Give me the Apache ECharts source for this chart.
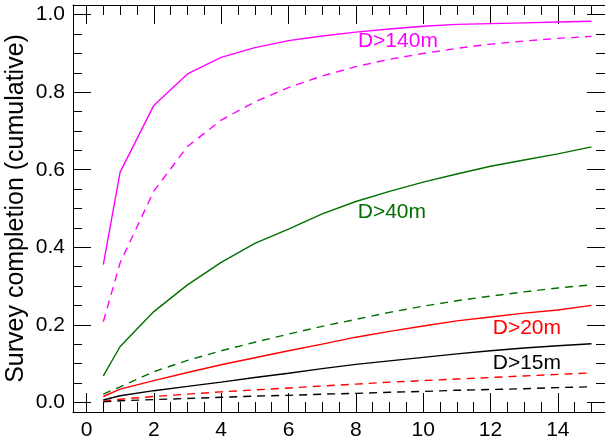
<!DOCTYPE html>
<html>
<head>
<meta charset="utf-8">
<script src="https://cdn.jsdelivr.net/npm/echarts@6/dist/echarts.min.js"></script>
<style>
html,body{margin:0;padding:0;background:#fff;}
#chart{width:605px;height:443px;}
</style>
</head>
<body>
<div id="chart"></div>
<script>
// ---- data ----
var xValues = [0.5, 1, 2, 3, 4, 5, 6, 7, 8, 9, 10, 11, 12, 13, 14, 15];
var d140Solid = [0.355, 0.594, 0.766, 0.847, 0.890, 0.915, 0.933, 0.945, 0.955, 0.963, 0.970, 0.975, 0.977, 0.979, 0.981, 0.983];
var d140Dash  = [0.208, 0.360, 0.545, 0.660, 0.728, 0.775, 0.812, 0.842, 0.866, 0.885, 0.900, 0.913, 0.924, 0.932, 0.939, 0.944];
var d40Solid  = [0.068, 0.144, 0.234, 0.303, 0.361, 0.410, 0.447, 0.486, 0.518, 0.544, 0.568, 0.589, 0.609, 0.625, 0.641, 0.659];
var d40Dash   = [0.021, 0.040, 0.079, 0.108, 0.133, 0.155, 0.176, 0.196, 0.214, 0.232, 0.248, 0.262, 0.274, 0.285, 0.295, 0.303];
var d20Solid  = [0.015, 0.034, 0.056, 0.077, 0.097, 0.115, 0.133, 0.150, 0.168, 0.183, 0.197, 0.210, 0.220, 0.230, 0.238, 0.250];
var d20Dash   = [0.003, 0.008, 0.015, 0.021, 0.027, 0.032, 0.037, 0.042, 0.047, 0.052, 0.056, 0.060, 0.064, 0.068, 0.072, 0.076];
var d15Solid  = [0.006, 0.017, 0.030, 0.041, 0.052, 0.064, 0.075, 0.087, 0.098, 0.107, 0.116, 0.125, 0.133, 0.140, 0.146, 0.151];
var d15Dash   = [0.001, 0.004, 0.007, 0.010, 0.013, 0.016, 0.018, 0.021, 0.023, 0.026, 0.028, 0.031, 0.033, 0.035, 0.038, 0.040];

var xMajorTicks = [0, 2, 4, 6, 8, 10, 12, 14];
var xMinorTicks = [0.5, 1, 1.5, 2.5, 3, 3.5, 4.5, 5, 5.5, 6.5, 7, 7.5, 8.5, 9, 9.5, 10.5, 11, 11.5, 12.5, 13, 13.5, 14.5, 15];
var yMajorTicks = [0.0, 0.2, 0.4, 0.6, 0.8, 1.0];
var yMinorTicks = [0.05, 0.1, 0.15, 0.25, 0.3, 0.35, 0.45, 0.5, 0.55, 0.65, 0.7, 0.75, 0.85, 0.9, 0.95];
var yTitle = 'Survey completion (cumulative)';
var labelTexts = ['D>140m', 'D>40m', 'D>20m', 'D>15m'];

// ---- chart ----
var FONT = 'Liberation Sans, Arial, Helvetica, sans-serif';
var XMIN = -0.4, XMAX = 15.4, YMIN = -0.025, YMAX = 1.025;

function pairs(ys) { return xValues.map(function (x, i) { return [x, ys[i]]; }); }

function xAx(pos, ticks, len, showLine, showLabel) {
  return {
    type: 'value', position: pos, min: XMIN, max: XMAX,
    axisLine: { show: showLine, onZero: false, lineStyle: { color: '#000', width: 1 } },
    axisTick: { show: true, inside: true, length: len, customValues: ticks, lineStyle: { color: '#000', width: 1 } },
    axisLabel: showLabel ? { show: true, customValues: ticks, color: '#000', fontSize: 21, fontFamily: FONT, margin: 8,
      formatter: function (v) { return String(Math.round(v)); } } : { show: false },
    splitLine: { show: false }
  };
}
function yAx(pos, ticks, len, showLine, showLabel, withName) {
  var a = {
    type: 'value', position: pos, min: YMIN, max: YMAX,
    axisLine: { show: showLine, onZero: false, lineStyle: { color: '#000', width: 1 } },
    axisTick: { show: true, inside: true, length: len, customValues: ticks, lineStyle: { color: '#000', width: 1 } },
    axisLabel: showLabel ? { show: true, customValues: ticks, color: '#000', fontSize: 21, fontFamily: FONT, margin: 8,
      formatter: function (v) { return v.toFixed(1); } } : { show: false },
    splitLine: { show: false }
  };
  if (withName) {
    a.name = yTitle; a.nameLocation = 'middle'; a.nameGap = 44; a.nameMoveOverlap = false;
    a.nameTextStyle = { color: '#000', fontSize: 25, fontFamily: FONT };
  }
  return a;
}

function line(ys, color, dashed, lbl) {
  var s = {
    type: 'line', data: pairs(ys), xAxisIndex: 0, yAxisIndex: 0,
    showSymbol: false, symbol: 'none', silent: true, animation: false,
    lineStyle: { color: color, width: 1.4, type: dashed ? [8, 6] : 'solid' }
  };
  if (lbl) {
    s.markPoint = {
      symbol: 'circle', symbolSize: 0, silent: true, animation: false,
      data: [{ coord: lbl.coord, value: lbl.text,
        label: { show: true, position: 'inside', formatter: lbl.text, color: color, fontSize: 21, fontFamily: FONT } }]
    };
  }
  return s;
}

var chart = echarts.init(document.getElementById('chart'), null, { renderer: 'canvas' });
chart.setOption({
  animation: false,
  backgroundColor: '#fff',
  grid: { left: 73, right: 0, top: 5, bottom: 31, containLabel: false, outerBoundsMode: 'none' },
  xAxis: [
    xAx('bottom', xMajorTicks, 19, true, true),
    xAx('bottom', xMinorTicks, 10, false, false),
    xAx('top', xMajorTicks, 19, true, false),
    xAx('top', xMinorTicks, 10, false, false)
  ],
  yAxis: [
    yAx('left', yMajorTicks, 18, true, true, true),
    yAx('left', yMinorTicks, 9, false, false, false),
    yAx('right', yMajorTicks, 18, true, false, false),
    yAx('right', yMinorTicks, 9, false, false, false)
  ],
  series: [
    line(d140Solid, '#ff00ff', false, { coord: [9.25, 0.932], text: labelTexts[0] }),
    line(d140Dash, '#ff00ff', true),
    line(d40Solid, '#006f00', false, { coord: [9.07, 0.490], text: labelTexts[1] }),
    line(d40Dash, '#006f00', true),
    line(d20Solid, '#ff0000', false, { coord: [13.08, 0.190], text: labelTexts[2] }),
    line(d20Dash, '#ff0000', true),
    line(d15Solid, '#000000', false, { coord: [13.08, 0.102], text: labelTexts[3] }),
    line(d15Dash, '#000000', true)
  ]
});
</script>
</body>
</html>
